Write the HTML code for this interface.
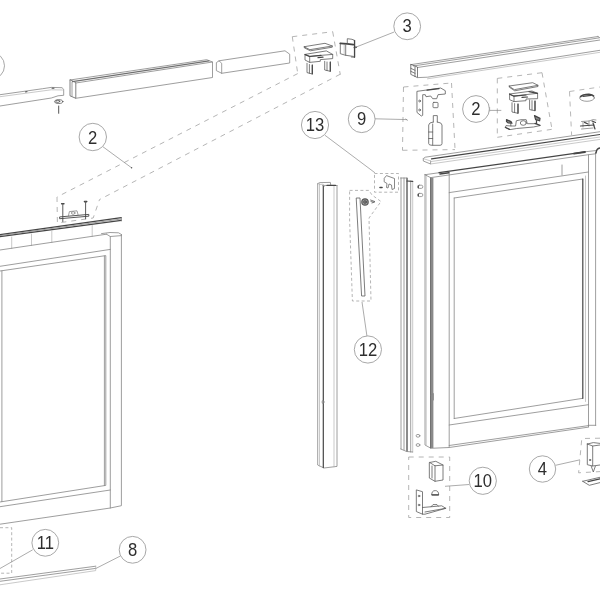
<!DOCTYPE html>
<html><head><meta charset="utf-8">
<style>
html,body{margin:0;padding:0;background:#fff;}
body{width:600px;height:600px;overflow:hidden;font-family:"Liberation Sans",sans-serif;}
svg{display:block;will-change:transform;transform:translateZ(0);filter:blur(.42px)}
.l{stroke:#858585;stroke-width:.8;fill:none;stroke-linecap:round;stroke-linejoin:round}
.p .l,.p.l,g.p>path:not([class]),g.p>rect,g.p>circle,g.p>ellipse{stroke:#5c5c5c}
.k{stroke:#454545;stroke-width:1.2;fill:none;stroke-linecap:round;stroke-linejoin:round}
.f{stroke:#b2b2b2;stroke-width:.7;fill:none;stroke-linecap:round}
.d{stroke:#9c9c9c;stroke-width:.75;fill:none;stroke-dasharray:5 5}
.c{stroke:#989898;stroke-width:.85;fill:#fff}
.ld{stroke:#888;stroke-width:.7;fill:none}
text{font-family:"Liberation Sans",sans-serif;font-size:18.5px;fill:#2e2e2e;text-anchor:middle}
</style></head><body>
<svg width="600" height="600" viewBox="0 0 600 600">
<rect width="600" height="600" fill="#fff"/>

<!-- ===== top-left rail pieces ===== -->
<g id="railA" class="l">
<path d="M0 94.7L42.7 88.7L51.3 87.4L62 87.7L63.7 89.3L63.7 95.3L58 95.8L51.3 98L0 106"/>
<path class="f" d="M0 96.7L51.3 89.8L62.5 90"/>
<path class="k" d="M25.5 91.9L27 91.7M52 88.2L54 88.2" style="stroke-width:1"/>
<ellipse cx="58.7" cy="101.6" rx="4.2" ry="1.9" style="stroke:#555"/>
<ellipse cx="57.8" cy="101.3" rx="2" ry="1.1" style="stroke:#555"/>
<path d="M58.7 106L58.7 113.3" style="stroke:#555;stroke-width:1"/>
</g>
<g id="railB">
<path class="l" style="stroke:#606060" d="M70 80L70 95.8L75.8 98.3L75.8 83Z"/>
<path class="l" d="M72 82L72 96.2"/>
<path class="l" d="M70 80L206.7 59.7L212.5 62L212.5 77.5L75.8 98.3"/>
<path class="k" d="M72.5 81.6L209 60.9" style="stroke:#707070;stroke-width:1.1"/>
<path class="l" d="M75.8 83L212.5 62"/>
</g>
<g id="railC" class="l">
<path d="M216.7 62.4L219 60.8L221.7 63.3L221.7 73.3L216.7 70.8Z"/>
<path d="M219 60.8L285 50.8L289.7 54.2L289.7 63L221.7 73.3"/>
</g>

<!-- dashed assembly lines hanger -> left door -->
<g class="d">
<path d="M292.3 36.7L332.7 31.7"/>
<path d="M292.3 36.7L297.7 73.3"/>
<path d="M332.7 31.7L340.3 74.7"/>
<path d="M297.7 73.6L57 197"/>
<path d="M340.3 74.2L99.5 199.6"/>
<path d="M57 197L57.4 223L93.2 218L99.5 199.6"/>
</g>

<!-- hanger 1 -->
<g id="hang1" class="l p">
<path d="M304.3 46.7L325 43.3L332.3 46L310.3 49.6Z"/>
<path d="M304.3 46.7L304.3 47.8L310.3 50.8L332.3 47.2L332.3 46"/>
<path d="M305 54.4L326.3 50.9L332.7 54.4L309.7 56.3Z"/>
<path d="M305 54.4L305 60L309.7 62.4L309.7 56.3"/>
<path d="M309.7 62.4L320.3 61.3L320.3 59.6L332.7 58.6L332.7 54.4"/>
<path d="M307 63.3L307 72.6L312.3 74L312.3 65"/>
<path d="M309.4 64.5L309.4 73.2"/>
<path d="M324.7 61.3L324.7 70L330.3 71.3L330.3 62"/>
<path d="M327 62L327 70.6"/>
<path class="k" d="M309.7 56.5L321 55.4M318 57.6L323 57.2M305.3 54.6L309.7 56.5M312.3 65.2L312.3 74M330.3 62.2L330.3 71.2"/>
</g>

<!-- clip 3 -->
<g id="clip3" class="p">
<path class="l" d="M340.3 43.3L340.3 53.7L345.7 55.3L345.7 45"/>
<path class="f" d="M344.2 44.6L344.2 54.8"/>
<path class="l" d="M345.7 55.3L353.4 56.4"/>
<path class="k" d="M340.3 43.4L347.3 43.9L353.4 44.6" style="stroke-width:1.8"/>
<path class="l" d="M347.3 43.6L347.3 38.7L352 39.3L354.7 40.4L354.7 57.3L351.3 57"/>
<path class="k" d="M354.5 40.6L354.5 57.2"/>
<path class="k" d="M354.4 47.5L356.2 47.2" style="stroke-width:1.6"/>
</g>

<!-- ===== top right rail D ===== -->
<g id="railD">
<path class="l" d="M410.5 64.7L598 36.5"/>
<path class="l" d="M413.3 66L599 37.9"/>
<path class="l" d="M417.5 67.5L600 40"/>
<path class="l" d="M410.8 64.7L410.8 74.4L417.5 77.6L417.5 67.5Z" style="stroke:#5c5c5c"/>
<path class="l" style="stroke:#5c5c5c" d="M410.8 68.3L415 70.3M410.8 71.3L415 73.3M415 67L415 76.6"/>
<path class="l" d="M417.5 77.6L427.5 77.2L600 50.3"/>
<path class="f" d="M427.5 78.8L600 52.3"/>
<path class="l" d="M598 36.5L600 38"/>
</g>

<!-- box 9 -->
<g class="d">
<path d="M403.5 87L451.5 83"/>
<path d="M403.5 87L402.5 150.3"/>
<path d="M451.5 83L455 148.5"/>
<path d="M402.5 150.3L455 149.6"/>
</g>
<g id="p9" class="l p">
<path d="M417.3 91.3L426.7 90L440.7 88L445.3 90.7L445.3 94L438 94.7L436.7 98.7L432.7 98.7L430.7 96L426 96.7L425.3 94.7L422.7 94.7L422.7 115.3L421.3 116L417.3 112.7Z"/>
<path d="M427 90.2L439 88.6" class="k"/>
<circle cx="419.6" cy="101" r=".9"/><circle cx="419.6" cy="110" r=".9"/>
<rect x="433" y="102.4" width="5" height="5.3" rx=".8"/>
<path d="M433.3 122L433.3 115.6L437.3 115.6L437.3 122"/>
<path d="M433.3 122Q428.7 122.5 428.7 125L428.7 143.5Q428.7 145.3 432 145.3L440 145.3Q442 145.3 442 143.5L442 125Q442 122.5 437.3 122"/>
<path d="M432.7 124L432.7 145"/>
<path d="M428.7 132L432.7 132M428.7 138.5L432.7 138.5"/>
</g>

<!-- box 2 right -->
<g class="d">
<path d="M497.3 78.4L542 72.7"/>
<path d="M497.3 78.4L497.3 137.3"/>
<path d="M542 72.7L552 129.3"/>
<path d="M497.3 137.3L552 129.3"/>
</g>
<g id="hang2" class="l p">
<path d="M509.3 86L532.7 82.7L538 85.3L514.7 89.6Z"/>
<path d="M509.3 86L509.3 87.2L514.7 90.8L538 86.5L538 85.3"/>
<path d="M509.6 94L532 91L537.6 93.3L514 96Z"/>
<path d="M509.6 94L509.6 99.7L514 101.6L514 96"/>
<path d="M514 101.6L526 100.7L526 99L537.6 98.7L537.6 93.3"/>
<path d="M512 102.7L512 112L518 113.3L518 104"/>
<path d="M514.6 103.6L514.6 112.6"/>
<path d="M529.6 100L529.6 109.6L535 110.7L535 101"/>
<path d="M532 100.6L532 110"/>
<path class="k" d="M514 96.2L526 95M522 97.4L527.5 97M509.8 94.2L514 96.2M518 104.2L518 113.2M535 101.2L535 110.6M529 91.6L537.4 93.4"/>
<path d="M510.8 123L510.8 126L515.6 126L516.3 120.8L521 119.7L526.2 119.7L527.3 123.7L535.5 123.7"/>
<path d="M505.3 127.4L510 129.6L516.7 128.5L533.5 127L540 125.6"/>
<path d="M510.8 126L506 125.6L505.3 127.4"/>
<ellipse cx="523.3" cy="123" rx="3" ry="2.3"/>
<path class="k" d="M506.5 119.6L511 121.6L512 123.2L508 122.8L506.5 121.6Z" style="fill:#8a8a8a"/>
<path class="k" d="M534.5 115.6L540 118.4L539.6 120.8L535.6 119.6Z" style="fill:#8a8a8a"/>
<path class="k" d="M536.5 120.5L536.5 123.4M535 123.4L540 125.4M505.5 127.5L509.5 129.4"/>
</g>

<!-- right edge box -->
<g class="d" style="stroke:#a0a0a0">
<path d="M569.5 91.5L600 87"/>
<path d="M569.5 91.5L571.6 135"/>
</g>
<g class="l">
<ellipse cx="587" cy="97.9" rx="7.4" ry="3.4"/>
<path class="k" d="M580.6 96.6Q583 94.2 589 94.3Q592.5 94.6 593.6 96" style="stroke-width:1.6"/>
<path class="k" d="M583 96.4L591 95.4"/>
<path d="M581.5 121.5L589 121L593 119.6L596 120"/>
<path d="M583 122L583 127M589 121L589 126"/>
<path class="k" d="M580.5 126L594 125"/>
<path d="M581.5 129L593 128"/>
<path class="k" d="M593 123L595 129M592 121L595.5 122.5M584.5 122.4L588 124"/>
</g>

<!-- ===== lower rail E ===== -->
<g id="railE">
<path class="l" d="M423.3 158.6L425.2 157.2L600 131.7"/>
<path class="l" d="M423.3 158.6L423.3 161L430.6 164L430.6 161"/>
<path class="f" d="M423.3 158.6L430.6 161"/>
<path class="k" d="M431.5 158.9L600 134.5"/>
<path class="f" d="M430.6 161.6L600 137"/>
<path class="f" d="M430.6 164L600 139.4"/>
</g>

<!-- ===== right door F ===== -->
<g id="doorR">
<path class="l" d="M425 174.7L425 445L431 448.3L449.2 447.5L588.7 427.1"/>
<path class="l" d="M588.3 425.3L595.8 425.3"/>
<path class="l" d="M431.9 177.8L431.9 448" style="stroke:#8a8a8a;stroke-width:3;stroke-linecap:butt"/>
<path class="l" d="M430.5 177.8L430.5 448" style="stroke:#6a6a6a;stroke-width:.9"/>
<path class="f" d="M426.2 175.5L426.2 445"/>
<path class="l" d="M449.2 173.8L449.2 447.2"/>
<path class="l" d="M425 174.7L440 172.6"/>
<path class="k" d="M439 172.7L585 151.8"/>
<path class="l" d="M585 151.8L595.5 150.6"/>
<path class="k" d="M440 174L449 172.8" style="stroke-width:1.6"/>
<path class="l" d="M430.8 177.6L588.4 154.7L595.6 153.8"/>
<path class="l" d="M425 174.7L430.8 177.8"/>
<path class="l" d="M449.2 192.6L588.3 172"/>
<path class="l" d="M454.2 198L582.8 179"/>
<path class="l" d="M454.2 198L454.2 418.5"/>
<path class="l" d="M454.2 418.5L582.8 398.3"/>
<path class="l" d="M449.2 425L588.3 404.7"/>
<path class="l" d="M588.5 154.7L588.5 426.6"/>
<path class="l" d="M595.6 152.5L595.6 425.3"/>
<path class="k" d="M582.8 179L582.8 398.3"/>
<path class="f" d="M585.5 176L585.5 401.5"/>
<path class="l" d="M449.2 445.5L588.5 425.6"/>
<path class="l" d="M562 165L562 175"/>
<path class="k" d="M574 153.6L585 152" style="stroke-width:1.8"/>
<path class="k" d="M596 153Q596.4 148.6 600 148" style="stroke-width:1.5"/>
<path class="l" d="M430.8 395L433.5 393.5L433.5 400"/>
<rect class="l" x="417.8" y="185.2" width="5" height="3.2" rx="1.5"/><path class="k" d="M418.3 185.8L418.3 187.8"/>
<rect class="l" x="417.8" y="193.4" width="5" height="3.2" rx="1.5"/><path class="k" d="M418.3 194L418.3 196"/>
<ellipse class="l" cx="418" cy="435.8" rx="1.9" ry="1.4"/>
<ellipse class="l" cx="418" cy="445" rx="1.9" ry="1.4"/>
</g>

<!-- thin profile G -->
<g id="profG">
<path class="l" d="M401 178L401 449"/>
<path class="l" d="M404 178L404 449.8"/>
<path class="l" d="M407 178.4L407 451" style="stroke:#787878;stroke-width:1.7"/>
<path class="l" d="M410.7 181L410.7 452"/>
<path class="f" d="M412.7 181.4L412.7 452"/>
<path class="l" d="M400.6 178L406.6 178"/>
<path class="k" d="M407 181L412.7 181.4"/>
<path class="l" d="M400.8 449L406.6 451.5L412.7 452"/>
</g>

<!-- thick profile H -->
<g id="profH">
<path class="l" d="M317.7 183.7L317.7 465L324 468L337 466.4L337 185.5"/>
<path class="f" d="M319.5 183.5L319.5 466"/>
<path class="k" d="M323.3 185.3L323.3 467.6"/>
<path class="f" d="M334 185.5L334 466.8"/>
<path class="l" d="M317.7 183.7L319.6 182.6L330.4 182.4L330.7 185"/>
<path class="l" d="M323.3 185.4L337 185.5"/>
<path class="k" d="M327 185.4L335.5 185.4"/>
<path class="f" d="M319 184.6L323 184.2L324.5 186.6"/>
<ellipse class="l" cx="323" cy="402" rx=".9" ry="1.6"/>
</g>

<!-- box 13 -->
<g class="d" style="stroke-dasharray:3 2.4">
<path d="M374.5 173.5L398.5 173.5L398.5 192.2L374.5 192.2Z"/>
</g>
<g class="l">
<path style="stroke:#6a6a6a" d="M384.5 178L386.5 175.6L394.5 178.5L394.5 188.5L392 189.5L391.5 185L389 184L388 188L386.5 187.5L387 183.5L384.5 182Z"/>
<path class="k" d="M380 187.5L382 187.5" style="stroke-width:1.6"/>
</g>

<!-- box 12 -->
<g class="d" style="stroke-dasharray:3 2.4">
<path d="M349.6 190.4L369 190.4L372 195L381 201.5L369 218L371 301L352.4 301L349.6 220Z"/>
</g>
<g id="p12" class="p">
<path class="l" d="M356.6 198L360 198L365 296L362 296Z"/>
<circle class="k" cx="365" cy="202" r="3.2" style="fill:#9a9a9a"/>
<circle class="l" cx="365" cy="202" r="1.3" style="stroke:#444"/>
<path class="l" d="M370.5 200L375 201.6L372 203M371 201.6L374 202.2"/>
</g>

<!-- box 10 -->
<g class="d">
<path d="M408.7 457L449.7 457L449.7 517.5L408.7 517.5Z"/>
</g>
<g id="p10" class="l p">
<path d="M429.7 462.5L435.8 461.3L443 465L443 480L435 481.3L429.7 478.3Z"/>
<path d="M429.7 462.5L435 465.8L443 465M435 465.8L435 481.3"/>
<path d="M432 466L432 478"/>
<path d="M431.7 494.6Q431.7 490.6 435.2 490.6Q438.7 490.6 438.7 494.6Z"/>
<path class="k" d="M432 494.8L438.4 494.8"/>
<path d="M416.7 490L422.5 491.7L422.5 514.2L416.7 511.7Z"/>
<path d="M422.5 507.5L441.7 505.8L445.8 508.3L425 514.2L422.5 514.2"/>
<path d="M425 512L445.8 508.3"/>
<path d="M431 506.8L433 504.6L437 504.6L438.4 506.2"/>
<circle cx="419" cy="496" r=".8"/><circle cx="419" cy="505" r=".8"/>
</g>

<!-- box 4 -->
<g class="d">
<path d="M600 438.2L581.8 438.5L578.6 472.8L600 471.6"/>
</g>
<g id="p4" class="l p">
<path d="M587.3 444L593.3 442.6L600 443.4"/>
<path d="M587.3 444L587.3 464.7L592.7 466L592.7 446L587.3 444"/>
<path d="M592.7 446L600 445"/>
<path d="M592.7 466L600 465"/>
<path d="M591.3 466.4L593.3 472L595.3 466.4"/>
<circle cx="590" cy="460" r=".7"/>
<path d="M582.7 481.3L600 477.3M582.7 481.3L589.3 485.3L600 482.6"/>
<path class="k" d="M588 481.6L600 478.8"/>
</g>

<!-- ===== left door I ===== -->
<g id="doorL">
<path class="k" d="M0 234.6L121.3 217.6"/>
<path class="k" d="M0 236.7L121.3 220.4"/>
<path class="l" d="M0 235.6L121.3 219"/>
<path class="l" d="M121.3 217.6L121.3 221"/>
<path class="k" d="M61.7 203.8L63.9 203.8M84.5 201.6L86.7 201.6" style="stroke-width:1.6"/>
<path class="f" d="M11.7 237L11.7 248.5M31.5 234L31.5 245.5M51.8 231L51.8 242.5M92.2 225.5L92.2 236.5"/>
<path class="l" d="M0 250L106.5 234.2"/>
<path class="l" d="M101.5 233.6L110 232.5L118.5 232.8L121.4 234.5"/>
<path class="l" d="M106.5 234.2L110.3 236.5L121.4 235.6"/>
<path class="l" d="M121.4 234.5L121.4 505.7L110.3 508L0 524.2"/>
<path class="l" d="M110.3 236.5L110.3 508"/>
<path class="l" d="M0 266.3L110.3 249.4"/>
<path class="l" d="M0 271L105.8 255.6L105.8 485.4L0 502"/>
<path class="l" d="M104.4 256L104.4 485.6"/>
<path class="l" d="M1.9 271L1.9 501.6"/>
<path class="l" d="M0 506.7L110.3 490"/>
<!-- screws and bracket -->
<path class="k" d="M62.8 203.6L62.8 221.5M85.6 201.4L85.6 218.8" style="stroke:#5a5a5a;stroke-width:1"/>
<path class="k" d="M60 216.9L88.8 214.4L88.8 216.2L60 218.7Z" style="stroke-width:.9"/>
<path class="l" d="M68.4 216L69.4 211.6L77 210.8L78.2 215.2"/>
<ellipse class="l" cx="73.2" cy="213" rx="1.8" ry="1.3"/>
</g>

<!-- box 11 -->
<g class="d" style="stroke-dasharray:3 2.4">
<path d="M0 527.7L11.7 527.7L11.7 573.2L0 573.2"/>
</g>
<!-- strip 8 -->
<g class="l">
<path d="M0 579L95.7 566.2"/>
<path d="M0 581.3L95.7 568.4"/>
<path class="f" d="M0 584.8L95.7 570.6L95.7 566.2"/>
</g>

<!-- leaders -->
<g class="ld">
<path d="M103 146.8L131.6 167.8"/>
<circle cx="131.6" cy="167.8" r=".7" style="fill:#555;stroke:none"/>
<path d="M394.2 32L355 47.5"/>
<path d="M375 118.8L407.3 119.6M405.6 118.6L407.6 120.8"/>
<path d="M325 135.3L375 172.8"/>
<path d="M489.3 110.4L501.3 110.4M489.6 107L489.6 111.5"/>
<path d="M362 302L367 336.5"/>
<path d="M469.2 484.5L445 486.3"/>
<path d="M555.5 465.3L580 459.8"/>
<path d="M32.7 549.8L0 568.5"/>
<path d="M120.6 555.9L96 568.4"/>
</g>

<!-- circles -->
<g class="c">
<circle cx="-9" cy="65.8" r="13.5"/>
<circle cx="92.8" cy="137" r="13.7"/>
<circle cx="407.2" cy="26.3" r="13.4"/>
<circle cx="361.7" cy="119.2" r="13.4"/>
<circle cx="315" cy="125" r="13.6"/>
<circle cx="476" cy="109" r="13.4"/>
<circle cx="367.9" cy="349.5" r="13.6"/>
<circle cx="482.8" cy="480.8" r="13.6"/>
<circle cx="542.5" cy="469" r="13.2"/>
<circle cx="45.3" cy="542.8" r="13.4"/>
<circle cx="132.6" cy="549.8" r="13.4"/>
</g>
<g>
<text transform="translate(92.6 143.7) scale(.9 1)">2</text>
<text transform="translate(407.2 32.4) scale(.9 1)">3</text>
<text transform="translate(361.7 125.3) scale(.9 1)">9</text>
<text transform="translate(315 131.1) scale(.9 1)">13</text>
<text transform="translate(476 115.1) scale(.9 1)">2</text>
<text transform="translate(367.9 355.7) scale(.9 1)">12</text>
<text transform="translate(482.8 486.9) scale(.9 1)">10</text>
<text transform="translate(542.4 475.2) scale(.9 1)">4</text>
<text transform="translate(45.3 549.2) scale(.9 1)">11</text>
<text transform="translate(132.6 556.2) scale(.9 1)">8</text>
</g>
</svg>
</body></html>
